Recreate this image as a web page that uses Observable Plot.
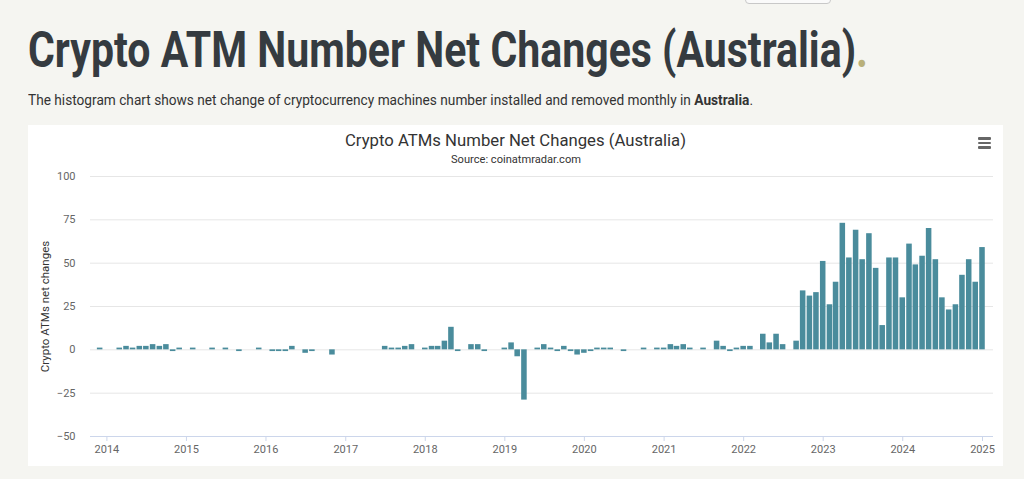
<!DOCTYPE html>
<html><head><meta charset="utf-8">
<script src="https://cdn.jsdelivr.net/npm/d3@7"></script>
<script src="https://cdn.jsdelivr.net/npm/@observablehq/plot@0.6"></script>
<style>
html,body{margin:0;padding:0;background:#f5f5f1;width:1024px;height:479px;overflow:hidden;font-family:Roboto,"Open Sans",sans-serif;}
.abs{position:absolute;white-space:nowrap;line-height:1;transform-origin:0 0;}
#title{left:28px;top:25px;font-size:50px;font-weight:700;color:#353b40;}
#title .dot{color:#b9b07a;}
#sub{left:28px;top:93px;font-size:15px;color:#333;}
#box{position:absolute;left:28px;top:125px;width:975px;height:341px;background:#fff;}
#ctitle{font-size:17px;color:#333;top:132px;}
#csrc{font-size:11px;color:#333;top:154px;}
#chart{position:absolute;left:28px;top:165px;}
#btn{position:absolute;left:745px;top:-20px;width:84px;height:22px;border:1px solid #c8c8c8;border-radius:4px;background:#fafafa;}
.bar{position:absolute;left:978px;width:13px;height:2.5px;background:#666;border-radius:1px;}
</style></head>
<body>
<div id="btn"></div>
<div id="title" class="abs">Crypto ATM Number Net Changes (Australia)<span class="dot">.</span></div>
<div id="sub" class="abs">The histogram chart shows net change of cryptocurrency machines number installed and removed monthly in <b>Australia</b>.</div>
<div id="box"></div>
<div id="ctitle" class="abs">Crypto ATMs Number Net Changes (Australia)</div>
<div id="csrc" class="abs">Source: coinatmradar.com</div>
<div class="bar" style="top:137px"></div>
<div class="bar" style="top:141.5px"></div>
<div class="bar" style="top:146px"></div>
<div id="chart"></div>
<script>
// ---- data ----
const months = [
 "2013-12","2014-03","2014-04","2014-05","2014-06","2014-07","2014-08","2014-09","2014-10","2014-11","2014-12",
 "2015-02","2015-05","2015-07","2015-09","2015-12",
 "2016-02","2016-03","2016-04","2016-05","2016-07","2016-08","2016-11",
 "2017-07","2017-08","2017-09","2017-10","2017-11",
 "2018-01","2018-02","2018-03","2018-04","2018-05","2018-06","2018-08","2018-09","2018-10",
 "2019-01","2019-02","2019-03","2019-04","2019-06","2019-07","2019-08","2019-09","2019-10","2019-11","2019-12",
 "2020-01","2020-02","2020-03","2020-04","2020-05","2020-07","2020-10","2020-12",
 "2021-01","2021-02","2021-03","2021-04","2021-05","2021-07","2021-09","2021-10","2021-11","2021-12",
 "2022-01","2022-02","2022-04","2022-05","2022-06","2022-07","2022-09","2022-10","2022-11","2022-12",
 "2023-01","2023-02","2023-03","2023-04","2023-05","2023-06","2023-07","2023-08","2023-09","2023-10","2023-11","2023-12",
 "2024-01","2024-02","2024-03","2024-04","2024-05","2024-06","2024-07","2024-08","2024-09","2024-10","2024-11","2024-12",
 "2025-01"
];
const netChanges = [
 1,1,2,1,2,2,3,2,3,-1,1,
 1,1,1,-1,1,
 -1,-1,-1,2,-2,-1,-3,
 2,1,1,2,3,
 1,2,2,5,13,-1,3,3,-1,
 1,4,-4,-29,1,3,1,-1,2,-1,-3,
 -2,-1,1,1,1,-1,1,1,
 1,3,2,3,1,1,5,2,-1,1,
 2,2,9,4,9,3,5,34,31,33,
 51,26,39,73,53,69,52,67,47,14,53,53,
 30,61,49,54,70,52,30,23,26,43,52,39,
 59
];
const yearLabels = [2014,2015,2016,2017,2018,2019,2020,2021,2022,2023,2024,2025];
const yTicks = [-50,-25,0,25,50,75,100];
const yLabel = "Crypto ATMs net changes";

// ---- chart ----
const parse = d3.utcParse("%Y-%m");
const data = months.map((m,i)=>({date: parse(m), value: netChanges[i]}));
const W = 975, H = 300, mL = 62, mR = 10;
const t0 = parse("2014-01"), t1 = parse("2025-01");
const px0 = 78.4, px1 = 954;
const k = (px1-px0)/(t1-t0);
const domain = [new Date(+t0 - (px0-mL)/k), new Date(+t1 + (W-mR-px1)/k)];
const yearTicks = yearLabels.map(y => new Date(Date.UTC(y,0,1)));

const chart = Plot.plot({
  width: W, height: H, marginLeft: mL, marginRight: mR, marginTop: 11, marginBottom: 29,
  x: {type: "utc", domain},
  y: {domain: [-50, 100]},
  style: {fontFamily: "Roboto, sans-serif", fontSize: "11px", color: "#666", background: "transparent"},
  marks: [
    Plot.ruleY(yTicks.filter(v => v > -50), {stroke: "#e6e6e6"}),
    Plot.rect(data, {x1: d => d3.utcDay.offset(d.date, -15), x2: d => d3.utcDay.offset(d.date, 15), y1: 0, y2: "value", fill: "#4a8c9c", insetLeft: 0.5, insetRight: 0.5}),
    Plot.ruleY([-50], {stroke: "#ccd6eb"}),
    Plot.axisX({ticks: yearTicks, tickFormat: d3.utcFormat("%Y"), tickSize: 5, tickPadding: 4, stroke: "#ccd6eb", fill: "#666", label: null}),
    Plot.axisY({ticks: yTicks, tickSize: 0, tickPadding: 15, label: null, fill: "#666"}),
    Plot.text([yLabel], {frameAnchor: "left", textAnchor: "middle", rotate: -90, dx: -45, text: d => d, fill: "#333", fontSize: 11.5})
  ]
});
document.getElementById("chart").appendChild(chart);

function fit(id, w, left) {
  const el = document.getElementById(id);
  el.style.transform = "none";
  const r = el.getBoundingClientRect().width;
  el.style.transform = `scaleX(${w / r})`;
  el.style.left = left + "px";
}
function fitAll() {
  fit("title", 840, 28);
  fit("sub", 725, 28);
  fit("ctitle", 341, 515.5 - 341/2);
  fit("csrc", 130, 516 - 65);
}
fitAll();
if (document.fonts) document.fonts.ready.then(fitAll);
</script>
</body></html>
